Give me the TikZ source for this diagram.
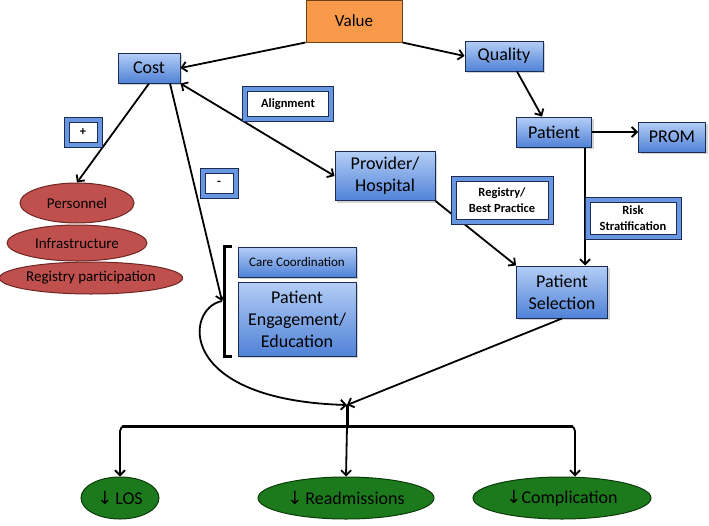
\documentclass[tikz,border=0pt]{standalone}
\usepackage{fontspec}
\setmainfont{Carlito}
\newfontfamily\arrowfont{DejaVu Sans}
\usetikzlibrary{arrows.meta,shapes.geometric,shadows}
\newcommand{\downmark}{{\arrowfont ↓}}
\definecolor{boxtop}{RGB}{180,206,246}
\definecolor{boxbot}{RGB}{80,130,215}
\definecolor{boxline}{RGB}{28,45,85}
\definecolor{frameblue}{RGB}{105,150,224}
\definecolor{valfill}{RGB}{248,154,74}
\definecolor{valline}{RGB}{110,65,20}
\definecolor{redfill}{RGB}{192,80,77}
\definecolor{redline}{RGB}{110,38,36}
\definecolor{grnfill}{RGB}{28,122,28}
\definecolor{grnline}{RGB}{10,60,10}
\tikzset{
  bluebox/.style={draw=boxline,line width=1pt,top color=boxtop,bottom color=boxbot,inner sep=2pt,align=center,
    drop shadow={shadow xshift=2pt,shadow yshift=-2pt,opacity=.35},font=\fontsize{18}{22}\selectfont},
  valbox/.style={draw=valline,line width=1pt,fill=valfill,inner sep=2pt,font=\fontsize{17}{20}\selectfont},
  tagbox/.style={fill=white,draw=boxline,line width=.8pt,align=center,inner sep=1pt,
    preaction={draw=boxline,line width=11pt},preaction={draw=frameblue,line width=9pt},
    font=\bfseries\fontsize{12.5}{16}\selectfont},
  redell/.style={ellipse,draw=redline,fill=redfill,line width=1pt,inner sep=0pt,font=\fontsize{15}{16}\selectfont},
  grnell/.style={ellipse,draw=grnline,fill=grnfill,line width=1pt,inner sep=0pt,font=\fontsize{18}{20}\selectfont},
  arr/.style={->,line width=1.8pt},
  brack/.style={line width=3pt}
}
\begin{document}
\begin{tikzpicture}[x=1pt,y=-1pt,>={Straight Barb[length=5pt,width=10pt]}]
\useasboundingbox (0,0) rectangle (709,525);
% boxes
\node[valbox,minimum width=96pt,minimum height=42pt] (value) at (354,21) {Value};
\node[bluebox,minimum width=62pt,minimum height=30pt] (cost) at (149,68) {Cost};
\node[bluebox,minimum width=78pt,minimum height=30pt] (quality) at (504,56) {Quality};
\node[bluebox,minimum width=75pt,minimum height=30pt] (patient) at (554,132) {Patient};
\node[bluebox,minimum width=67pt,minimum height=30pt] (prom) at (672,137) {PROM};
\node[bluebox,minimum width=100pt,minimum height=49pt] (provider) at (385,176) {Provider/\\Hospital};
\node[bluebox,minimum width=91pt,minimum height=52pt] (psel) at (562,292) {Patient\\Selection};
\node[bluebox,minimum width=118pt,minimum height=30pt,font=\fontsize{13}{15}\selectfont] (care) at (297,262) {Care Coordination};
\node[bluebox,minimum width=118pt,minimum height=74pt] (engage) at (297,319) {Patient\\Engagement/\\Education};
% ellipses
\node[redell,minimum width=114pt,minimum height=40pt] (personnel) at (77,203) {Personnel};
\node[redell,minimum width=140pt,minimum height=36pt] (infra) at (77,243) {Infrastructure};
\node[redell,minimum width=177pt,minimum height=32pt] (regpart) at (91,278) {Registry participation};
\node[grnell,minimum width=78pt,minimum height=42pt] (los) at (120,498) {\downmark\,LOS};
\node[grnell,minimum width=176pt,minimum height=42pt] (readm) at (346,498) {\downmark\,Readmissions};
\node[grnell,minimum width=178pt,minimum height=42pt] (compl) at (562,498) {\downmark Complication};
% bracket and points
\draw[brack] ([xshift=-6pt]care.north west) -| ([xshift=-13pt]engage.south west) -- ([xshift=-6pt]engage.south west);
\coordinate (brkmid) at (222,301);
\coordinate (junc) at (347,405);
\coordinate (bus) at (347,426);
% connectors
\draw[arr] (value.south west) -- (cost.east);
\draw[arr] (value.south east) -- (quality.west);
\draw[arr,<->] (cost.south east) -- (provider.west);
\draw[arr] (cost.south) -- (personnel.north);
\draw[arr] ([xshift=21pt]cost.south) -- (brkmid);
\draw[arr] ([xshift=13pt]quality.south) -- ([xshift=-12pt]patient.north);
\draw[arr] (patient.east) -- (patient.east -| prom.west);
\draw[arr] ([xshift=31pt]patient.south) -- ([xshift=31pt]patient.south |- psel.north);
\draw[arr] (provider.south east) -- (psel.north west);
\draw[arr] (psel.south) -- (junc);
\draw[arr] (brkmid) .. controls (185,308) and (175,400) .. (junc);
\draw[line width=3pt] (junc) -- (bus);
\draw[arr,rounded corners=5pt] (bus) -| (los.north);
\draw[arr] (bus) -- (readm.north);
\draw[arr,rounded corners=5pt] (bus) -| ([xshift=13pt]compl.north);
\draw[line width=3pt] ([xshift=2pt]los.north |- bus) -- ([xshift=11pt]compl.north |- bus);
% tags
\node[tagbox,minimum width=81pt,minimum height=25pt] (align) at (288,104) {Alignment};
\node[tagbox,minimum width=92pt,minimum height=38pt] (regtag) at (502,200) {Registry/\\Best Practice};
\node[tagbox,minimum width=86pt,minimum height=32pt] (risktag) at (633,218) {Risk\\Stratification};
\node[tagbox,minimum width=28pt,minimum height=20pt] (plus) at (83,132) {+};
\node[tagbox,minimum width=28pt,minimum height=20pt] (minus) at (219,183) {-};
\end{tikzpicture}
\end{document}
